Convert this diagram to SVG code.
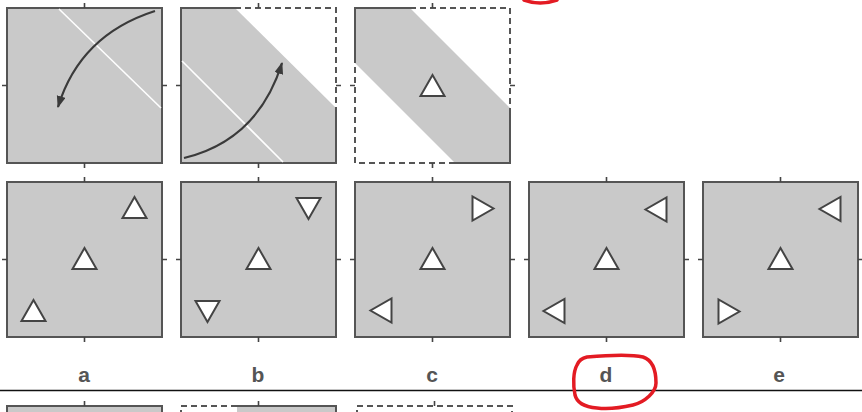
<svg xmlns="http://www.w3.org/2000/svg" xmlns:xlink="http://www.w3.org/1999/xlink" width="862" height="412" viewBox="0 0 862 412">
<style>
.bg{fill:#ffffff}
.grey{fill:#c9c9c9}
.box{fill:#c9c9c9;stroke:#555;stroke-width:2}
.solid{fill:none;stroke:#555;stroke-width:2}
.dash{fill:none;stroke:#555;stroke-width:2;stroke-dasharray:6 4}
.tick{fill:none;stroke:#444;stroke-width:1.6}
.wline{fill:none;stroke:#ffffff;stroke-width:1.6}
.arrow{fill:none;stroke:#3a3a3a;stroke-width:2.2}
.tri{fill:#ffffff;stroke:#444;stroke-width:2;stroke-linejoin:miter}
.lbl{font-family:"Liberation Sans",Arial,sans-serif;font-weight:bold;font-size:21px;fill:#555;text-anchor:middle}
.red{fill:none;stroke:#e31b23;stroke-width:3.5;stroke-linecap:round}
</style>
<defs>
<marker id="ah" markerUnits="userSpaceOnUse" markerWidth="13" markerHeight="10" refX="11" refY="4.5" orient="auto">
<path d="M0,0 L12,4.5 L0,9 z" fill="#3a3a3a"/>
</marker>
<polygon id="up" class="tri" points="-12,10 12,10 0,-11"/>
<polygon id="down" class="tri" points="-12,-10 12,-10 0,11"/>
<polygon id="right" class="tri" points="-10,-12 -10,12 11,0"/>
<polygon id="left" class="tri" points="10,-12 10,12 -11,0"/>
</defs>
<rect class="bg" x="0" y="0" width="862" height="412"/>

<!-- top row -->
<g id="top-a">
<rect class="box" x="7" y="8" width="155" height="155"/>
<path class="tick" d="M84.5,3V8M84.5,163V168M2,85.5H7M162,85.5H167"/>
<path class="wline" d="M59,9L161,108"/>
</g>
<g id="top-b">
<polygon class="grey" points="181,8 235,8 336,108 336,163 181,163"/>
<path class="solid" d="M235,8H181V163H336V108"/>
<path class="dash" d="M235,8H336V108"/>
<path class="tick" d="M258.5,3V8M258.5,163V168M176,85.5H181M336,85.5H341"/>
<path class="wline" d="M182,61L283,162"/>
</g>
<g id="top-c">
<polygon class="grey" points="355,8 410,8 510,108 510,163 455,163 355,63"/>
<path class="solid" d="M410,8H355V63M510,108V163H455"/>
<path class="dash" d="M410,8H510V108M455,163H355V63"/>
<path class="tick" d="M432.5,3V8M432.5,163V168M350,85.5H355M510,85.5H515"/>
<use xlink:href="#up" transform="translate(432.5,86)"/>
</g>
<g id="arrows">
<path class="arrow" marker-end="url(#ah)" d="M155,11Q80,35 58,107"/>
<path class="arrow" marker-end="url(#ah)" d="M184,158Q258,140 282,63"/>
</g>

<!-- bottom row -->
<g id="bottom-a">
<rect class="box" x="7" y="182" width="155" height="155"/>
<path class="tick" d="M84.5,177V182M84.5,337V342M2,259.5H7M162,259.5H167"/>
<use xlink:href="#up" transform="translate(84.5,259)"/>
<use xlink:href="#up" transform="translate(134.5,208)"/>
<use xlink:href="#up" transform="translate(33.5,311)"/>
</g>
<g id="bottom-b">
<rect class="box" x="181" y="182" width="155" height="155"/>
<path class="tick" d="M258.5,177V182M258.5,337V342M176,259.5H181M336,259.5H341"/>
<use xlink:href="#up" transform="translate(258.5,259)"/>
<use xlink:href="#down" transform="translate(308.5,208)"/>
<use xlink:href="#down" transform="translate(207.5,311)"/>
</g>
<g id="bottom-c">
<rect class="box" x="355" y="182" width="155" height="155"/>
<path class="tick" d="M432.5,177V182M432.5,337V342M350,259.5H355M510,259.5H515"/>
<use xlink:href="#up" transform="translate(432.5,259)"/>
<use xlink:href="#right" transform="translate(482.5,208.5)"/>
<use xlink:href="#left" transform="translate(381.5,310.5)"/>
</g>
<g id="bottom-d">
<rect class="box" x="529" y="182" width="155" height="155"/>
<path class="tick" d="M606.5,177V182M606.5,337V342M524,259.5H529M684,259.5H689"/>
<use xlink:href="#up" transform="translate(606.5,259)"/>
<use xlink:href="#left" transform="translate(656.5,209.5)"/>
<use xlink:href="#left" transform="translate(554.5,311)"/>
</g>
<g id="bottom-e">
<rect class="box" x="703" y="182" width="155" height="155"/>
<path class="tick" d="M780.5,177V182M780.5,337V342M698,259.5H703M858,259.5H863"/>
<use xlink:href="#up" transform="translate(780.5,259)"/>
<use xlink:href="#left" transform="translate(830.5,209)"/>
<use xlink:href="#right" transform="translate(728.5,311.5)"/>
</g>

<!-- labels -->
<g id="labels">
<text class="lbl" x="84" y="382">a</text>
<text class="lbl" x="258" y="382">b</text>
<text class="lbl" x="432" y="382">c</text>
<text class="lbl" x="606" y="382">d</text>
<text class="lbl" x="779" y="382">e</text>
</g>

<!-- separator -->
<line x1="0" y1="390.5" x2="862" y2="390.5" stroke="#111" stroke-width="1.4"/>

<!-- next row (cut off) -->
<g id="next-a">
<rect class="box" x="7" y="406" width="155" height="20"/>
<path class="tick" d="M84.5,401V406"/>
</g>
<g id="next-b">
<rect class="grey" x="237" y="406" width="99" height="10"/>
<path class="dash" d="M181,416V406H237"/>
<path class="solid" d="M237,406H336V416"/>
<path class="tick" d="M258.5,401V406"/>
</g>
<g id="next-c">
<path class="dash" d="M357,416V406H512V416"/>
<path class="tick" d="M434.5,401V406"/>
</g>

<!-- red annotations -->
<g id="red-marks">
<path class="red" d="M524,0Q540,6 557,0"/>
<path class="red" d="M587,357C610,355 630,354 643,357C652,360 656,370 656,383C656,392 645,402 633,405C620,408 605,409 597,408C585,407 577,403 575,395C573,385 573,372 577,365C579,360 582,358 587,357Z"/>
</g>
</svg>
